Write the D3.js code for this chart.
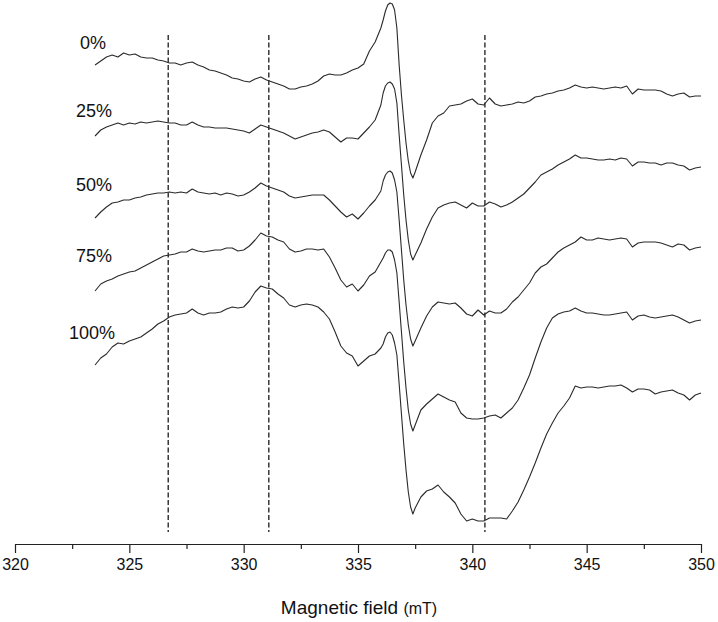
<!DOCTYPE html>
<html>
<head>
<meta charset="utf-8">
<script src="https://cdn.jsdelivr.net/npm/d3@7"></script>
<style>
  body { margin: 0; background: #fff; }
  svg { display: block; }
</style>
</head>
<body>
<svg id="chart" width="718" height="622"></svg>
<script>
// ---------------- DATA ----------------
const fields = [
  323.5, 323.75, 324, 324.25, 324.5, 324.75, 325, 325.25, 325.5, 325.75,
  326, 326.25, 326.5, 326.75, 327, 327.25, 327.5, 327.75, 328, 328.25,
  328.5, 328.75, 329, 329.25, 329.5, 329.75, 330, 330.25, 330.5, 330.75,
  331, 331.25, 331.5, 331.75, 332, 332.25, 332.5, 332.75, 333, 333.25,
  333.5, 333.75, 334, 334.25, 334.5, 334.75, 335, 335.25, 335.5, 335.75, 336,
  336.1, 336.2, 336.3, 336.4, 336.5, 336.6, 336.7, 336.8, 336.9, 337,
  337.1, 337.2, 337.3, 337.4, 337.5,
  337.75, 338, 338.25, 338.5, 338.75, 339, 339.25, 339.5, 339.75, 340,
  340.25, 340.5, 340.75, 341, 341.25, 341.5, 341.75, 342, 342.25, 342.5,
  342.75, 343, 343.25, 343.5, 343.75, 344, 344.25, 344.5, 344.75, 345,
  345.25, 345.5, 345.75, 346, 346.25, 346.5, 346.75, 347, 347.25, 347.5,
  347.75, 348, 348.25, 348.5, 348.75, 349, 349.25, 349.5, 349.75, 350
];

const seriesLabels = ["0%", "25%", "50%", "75%", "100%"];
const seriesOffsets = [475, 404, 322, 249, 175];   // vertical stacking offsets (a.u.)

const spectrum0 = [
  0,4,8,10,8,12,10,11,8,7, 7,5,4,2,2,0,2,3,0,-2, -5,-6,-8,-10,-13,-14,-16,-17,-14,-12,
  -15,-17,-19,-21,-24,-24,-22,-21,-19,-16, -11,-9,-10,-10,-8,-5,-3,1,14,23, 37,
  45,54,60,62,61,55,37,0,-30,-55,-78,-96,-108,-113,-107,
  -90,-75,-58,-51,-48,-41,-40,-39,-36,-34, -39,-40,-33,-39,-41,-40,-39,-37,-38,-36,
  -32,-31,-29,-28,-26,-25,-23,-20,-22,-23, -22,-23,-24,-23,-22,-23,-21,-29,-24,-25,
  -25,-25,-26,-29,-31,-29,-28,-32,-31,-31
];
const spectrum25 = [
  0,6,9,11,13,11,13,12,14,13, 14,15,14,13,13,11,11,14,11,9, 9,8,8,8,7,6,5,3,7,11,
  9,7,5,3,0,-3,-1,1,3,4, 6,4,-1,-6,-2,-2,-3,3,9,16, 31,
  43,50,53,54,52,47,33,1,-29,-59,-84,-104,-118,-124,-119,
  -107,-93,-81,-72,-69,-67,-66,-69,-72,-67, -70,-70,-66,-68,-71,-69,-66,-62,-58,-52,
  -46,-39,-36,-33,-29,-26,-23,-19,-22,-22, -23,-24,-24,-23,-24,-22,-23,-30,-26,-26,
  -27,-27,-29,-27,-27,-29,-30,-34,-32,-31
];
const spectrum50 = [
  0,6,11,15,16,18,18,20,21,23, 24,25,25,26,25,26,25,29,26,25, 24,25,23,25,24,22,23,26,30,35,
  32,30,28,26,22,20,21,22,23,23, 23,18,12,6,1,4,-1,5,12,18, 27,
  37,43,46,47,45,38,26,-2,-32,-62,-87,-107,-121,-128,-123,
  -110,-98,-89,-84,-85,-86,-85,-90,-96,-98, -92,-97,-93,-95,-95,-91,-84,-79,-72,-65,
  -55,-49,-46,-40,-34,-30,-27,-24,-19,-22, -22,-20,-21,-22,-21,-20,-21,-29,-25,-24,
  -24,-24,-25,-27,-29,-26,-27,-32,-30,-29
];
const spectrum75 = [
  0,7,10,12,15,17,19,20,23,26, 29,32,35,36,37,39,39,42,40,39, 40,41,41,43,43,40,41,45,51,58,
  55,54,51,49,42,39,40,42,42,41, 42,34,23,11,4,7,0,6,15,19, 29,
  33,38,41,41,39,31,18,-11,-41,-71,-97,-119,-133,-140,-134,
  -119,-113,-108,-103,-106,-109,-111,-122,-127,-128, -128,-127,-125,-124,-127,-122,-117,-109,-97,-84,
  -67,-51,-37,-27,-23,-21,-20,-17,-20,-22, -22,-23,-24,-24,-23,-22,-21,-29,-25,-24,
  -26,-27,-26,-25,-24,-26,-29,-32,-30,-29
];
const spectrum100 = [
  0,7,11,18,22,21,24,26,28,32, 36,41,44,48,50,51,52,56,52,50, 52,52,53,56,58,57,58,64,73,79,
  77,76,71,67,60,58,60,61,60,58, 53,46,33,19,12,9,-1,4,9,11, 17,
  21,28,32,33,30,22,10,-19,-49,-79,-105,-127,-142,-149,-143,
  -132,-126,-124,-120,-127,-132,-138,-149,-156,-154, -156,-156,-153,-153,-153,-154,-146,-137,-125,-112,
  -98,-83,-69,-58,-48,-41,-33,-21,-23,-22, -22,-23,-22,-21,-21,-20,-23,-27,-24,-24,
  -25,-29,-27,-26,-25,-28,-30,-35,-30,-28
];
const spectra = [spectrum0, spectrum25, spectrum50, spectrum75, spectrum100];

const markerFields = [326.7, 331.1, 340.55];   // dashed reference lines (mT)
const markerSpan = [8, 505];                    // vertical extent (a.u.)

const majorTicks = [320, 325, 330, 335, 340, 345, 350];
const minorTicks = [322.5, 327.5, 332.5, 337.5, 342.5, 347.5];
const xDomain = [320, 350];

// ---------------- LAYOUT ----------------
const svg = d3.select("#chart");
const axisY = 544;
const x = d3.scaleLinear().domain(xDomain).range([15, 701]);
const y = d3.scaleLinear().domain([0, 540]).range([540, 0]);

const labelPos = [
  {x: 80, y: 49}, {x: 76, y: 117}, {x: 76, y: 191}, {x: 76, y: 262}, {x: 69, y: 339}
];

// dashed lines
svg.append("g").selectAll("line").data(markerFields).join("line")
  .attr("x1", d => x(d)).attr("x2", d => x(d))
  .attr("y1", y(markerSpan[1])).attr("y2", y(markerSpan[0]))
  .attr("stroke", "#1a1a1a").attr("stroke-width", 1.3)
  .attr("stroke-dasharray", "5,2.5");

// spectra
const line = d3.line()
  .x((d, i) => x(fields[i]))
  .curve(d3.curveLinear);

svg.append("g").selectAll("path").data(spectra).join("path")
  .attr("d", (s, k) => line.y(v => y(v + seriesOffsets[k]))(s))
  .attr("fill", "none")
  .attr("stroke", "#2a2a2a")
  .attr("stroke-width", 1.1)
  .attr("stroke-linejoin", "round");

// series labels
svg.append("g").selectAll("text").data(seriesLabels).join("text")
  .attr("x", (d, i) => labelPos[i].x)
  .attr("y", (d, i) => labelPos[i].y)
  .attr("font-family", "Liberation Sans, Arial, sans-serif")
  .attr("font-size", 18)
  .attr("fill", "#111")
  .text(d => d);

// x axis
const axisMajor = d3.axisBottom(x).tickValues(majorTicks).tickSize(9).tickSizeOuter(0)
  .tickFormat(d3.format("d"));
const gAxis = svg.append("g").attr("transform", `translate(0,${axisY})`).call(axisMajor);
gAxis.select(".domain").attr("stroke", "#222").attr("stroke-width", 1.2);
gAxis.selectAll(".tick line").attr("stroke", "#222").attr("stroke-width", 1.2);
gAxis.selectAll(".tick text")
  .attr("font-family", "Liberation Sans, Arial, sans-serif")
  .attr("font-size", 16).attr("fill", "#111").attr("dy", "0.71em").attr("y", 15);

svg.append("g").attr("transform", `translate(0,${axisY})`)
  .call(d3.axisBottom(x).tickValues(minorTicks).tickSize(5).tickFormat(""))
  .call(g => g.select(".domain").remove())
  .selectAll(".tick line").attr("stroke", "#222").attr("stroke-width", 1.2);

// axis title
const title = svg.append("text")
  .attr("x", x(335) + 1).attr("y", 614)
  .attr("text-anchor", "middle")
  .attr("font-family", "Liberation Sans, Arial, sans-serif")
  .attr("fill", "#111");
title.append("tspan").attr("font-size", 19).text("Magnetic field ");
title.append("tspan").attr("font-size", 16).text("(mT)");
</script>
</body>
</html>
